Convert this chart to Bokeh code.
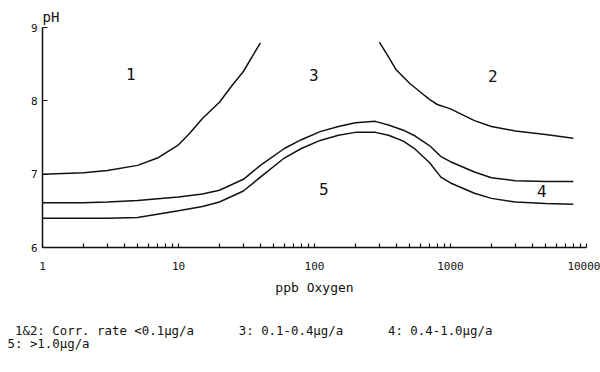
from bokeh.plotting import figure
from bokeh.layouts import column
from bokeh.models import Range1d, FixedTicker, ColumnDataSource, BasicTickFormatter, Title
from bokeh.core.properties import value
from bokeh.embed import file_html
from bokeh.resources import INLINE

FONT = "DejaVu Sans Mono"
INK = "#111111"

# Boundary curves: dissolved oxygen (ppb) vs pH
c1_ppb = [1, 2, 3, 5, 7, 10, 12, 15, 20, 25, 30, 35, 40]
c1_ph = [7.00, 7.02, 7.05, 7.12, 7.22, 7.40, 7.55, 7.76, 7.98, 8.22, 8.40, 8.61, 8.79]

c2_ppb = [300, 350, 400, 500, 600, 700, 800, 1000, 1500, 2000, 3000, 5000, 8000]
c2_ph = [8.80, 8.60, 8.42, 8.24, 8.12, 8.02, 7.95, 7.89, 7.73, 7.65, 7.59, 7.54, 7.49]

c3_ppb = [1, 2, 3, 5, 10, 15, 20, 30, 40, 60, 80, 110, 150, 200, 280, 350, 450, 550,
          700, 850, 1000, 1500, 2000, 3000, 5000, 8000]
c3_ph = [6.61, 6.61, 6.62, 6.64, 6.69, 6.73, 6.78, 6.93, 7.12, 7.35, 7.47, 7.58, 7.65,
         7.70, 7.72, 7.67, 7.60, 7.52, 7.39, 7.24, 7.17, 7.03, 6.95, 6.91, 6.90, 6.90]

c4_ppb = [1, 2, 3, 5, 10, 15, 20, 30, 40, 60, 80, 110, 150, 200, 280, 350, 450, 550,
          700, 850, 1000, 1500, 2000, 3000, 5000, 8000]
c4_ph = [6.40, 6.40, 6.40, 6.41, 6.50, 6.56, 6.62, 6.77, 6.96, 7.22, 7.35, 7.46, 7.53,
         7.57, 7.57, 7.53, 7.45, 7.34, 7.16, 6.96, 6.88, 6.74, 6.67, 6.62, 6.60, 6.59]

# Region labels
region_text = ["1", "3", "2", "5", "4"]
region_ppb = [4.46, 99, 2050, 117, 4690]
region_ph = [8.36, 8.35, 8.34, 6.80, 6.77]

# Axis ticks
x_ticks = [1, 10, 100, 1000, 10000]
x_tick_labels = ["1", "10", "100", "1000", "10000"]
y_ticks = [6, 7, 8, 9]

footnotes = ["1&2: Corr. rate <0.1\u00b5g/a", "3: 0.1-0.4\u00b5g/a",
             "4: 0.4-1.0\u00b5g/a", "5: >1.0\u00b5g/a"]

p = figure(width=600, height=310, x_axis_type="log",
           x_range=Range1d(1, 10000), y_range=Range1d(6, 9),
           output_backend="svg", toolbar_location=None,
           min_border_left=42, min_border_right=14,
           min_border_top=27, min_border_bottom=63)
p.outline_line_color = None
p.grid.visible = False

p.title.text = "pH"
p.title.align = "left"
p.title.text_font = FONT
p.title.text_font_size = "14px"
p.title.text_font_style = "normal"
p.title.text_color = INK
p.title.standoff = 6

for xs, ys in [(c1_ppb, c1_ph), (c2_ppb, c2_ph), (c3_ppb, c3_ph), (c4_ppb, c4_ph)]:
    p.line(xs, ys, line_color=INK, line_width=1.5)

src = ColumnDataSource(dict(x=region_ppb, y=region_ph, t=region_text))
p.text(x="x", y="y", text="t", source=src, text_font=value(FONT),
       text_font_size="16px", text_align="center", text_baseline="middle",
       text_color=INK)

minor = [m * d for d in x_ticks[:-1] for m in range(2, 10)]
xa = p.xaxis[0]
xa.ticker = FixedTicker(ticks=x_ticks, minor_ticks=minor)
xa.formatter = BasicTickFormatter()
xa.major_label_overrides = {t: s for t, s in zip(x_ticks, x_tick_labels)}
xa.major_tick_in = 4
xa.major_tick_out = 0
xa.minor_tick_in = 4
xa.minor_tick_out = 0
xa.major_label_standoff = 14
xa.axis_label = "ppb Oxygen"
xa.axis_label_standoff = 7
xa.axis_label_text_font = FONT
xa.axis_label_text_font_size = "13px"
xa.axis_label_text_font_style = "normal"
xa.axis_label_text_color = INK

ya = p.yaxis[0]
ya.ticker = FixedTicker(ticks=y_ticks, minor_ticks=[])
ya.major_tick_in = 5
ya.major_tick_out = 0
ya.major_label_standoff = 5

for ax in (xa, ya):
    ax.axis_line_color = INK
    ax.axis_line_width = 1.5
    ax.major_tick_line_color = INK
    ax.minor_tick_line_color = INK
    ax.major_tick_line_width = 1.2
    ax.minor_tick_line_width = 1.2
    ax.major_label_text_font = FONT
    ax.major_label_text_font_size = "11px"
    ax.major_label_text_color = INK

# Footnote panel: a title block under the chart (frame is aligned with the chart's frame)
NB = "\u00a0"
line1 = NB + footnotes[0] + NB * 6 + footnotes[1] + NB * 6 + footnotes[2]
line2 = footnotes[3]
p2 = figure(width=600, height=62, x_range=Range1d(0, 1), y_range=Range1d(0, 1),
            output_backend="svg", toolbar_location=None,
            x_axis_location=None, y_axis_location=None, min_border=0)
p2.outline_line_color = None
p2.grid.visible = False
p2.add_layout(Title(text=line1 + "\n" + line2, align="left", offset=-35,
                    vertical_align="top", standoff=24,
                    text_font=FONT, text_font_size="12.4px", text_font_style="normal",
                    text_line_height=0.9, text_color=INK), "above")

layout = column(p, p2, spacing=0)
open("out.html", "w").write(file_html(layout, INLINE))
